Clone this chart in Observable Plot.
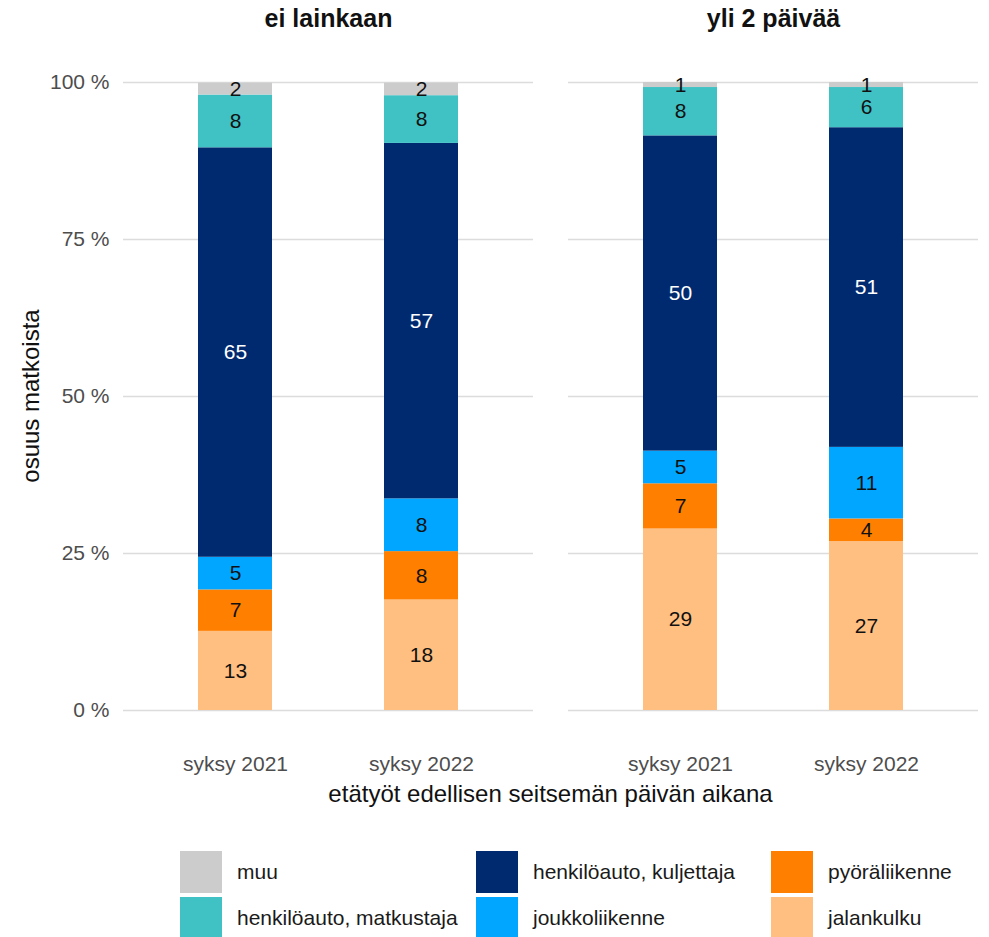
<!DOCTYPE html>
<html>
<head>
<meta charset="utf-8">
<script src="https://cdn.jsdelivr.net/npm/d3@7"></script>
<script src="https://cdn.jsdelivr.net/npm/@observablehq/plot@0.6"></script>
<style>
  body { margin: 0; background: #fff; font-family: "Liberation Sans", Arial, sans-serif; }
  #legend { display: grid; grid-template-columns: 296px 295px auto; row-gap: 4px; padding-left: 180px; margin-top: 31px; }
  .item { display: flex; align-items: center; height: 42px; font-size: 21px; color: #1a1a1a; white-space: nowrap; }
  .sw { width: 42px; height: 42px; margin-right: 15px; flex: none; }
</style>
</head>
<body>
<div id="chart"></div>
<div id="legend"></div>
<script>
// Categories (stack order bottom -> top)
const categories = ["jalankulku", "pyöräliikenne", "joukkoliikenne", "henkilöauto, kuljettaja", "henkilöauto, matkustaja", "muu"];
const colors = ["#ffbf80", "#ff7f00", "#00a6ff", "#002a70", "#40c2c4", "#cccccc"];
const facets = ["ei lainkaan", "yli 2 päivää"];
const years = ["syksy 2021", "syksy 2022"];
// values per category, in the order of categories
const eiLainkaan2021 = [12.6, 6.6, 5.2, 65.2, 8.4, 1.9];
const eiLainkaan2022 = [17.6, 7.7, 8.4, 56.6, 7.6, 2.0];
const yli2Paivaa2021 = [28.9, 7.2, 5.2, 50.2, 7.7, 0.8];
const yli2Paivaa2022 = [26.9, 3.6, 11.4, 50.9, 6.4, 0.8];
const yTicks = [0, 25, 50, 75, 100];
const legendOrder = ["muu", "henkilöauto, kuljettaja", "pyöräliikenne", "henkilöauto, matkustaja", "joukkoliikenne", "jalankulku"];

const series = [
  [facets[0], years[0], eiLainkaan2021],
  [facets[0], years[1], eiLainkaan2022],
  [facets[1], years[0], yli2Paivaa2021],
  [facets[1], years[1], yli2Paivaa2022]
];
const data = [];
for (const [facet, year, vals] of series) {
  vals.forEach((v, i) => data.push({facet, year, category: categories[i], value: v}));
}

const W = 989, H = 820, ML = 123, MR = 11, MT = 82, MB = 110;
const font = "Liberation Sans, Arial, sans-serif";
const darkCat = "henkilöauto, kuljettaja";

const plot = Plot.plot({
  width: W, height: H,
  marginLeft: ML, marginRight: MR, marginTop: MT, marginBottom: MB,
  style: {fontFamily: font, background: "#fff"},
  fx: {domain: facets, paddingInner: 0.0787, paddingOuter: 0, label: null},
  x: {domain: years, paddingInner: 0.602, paddingOuter: 0.403, label: null},
  y: {domain: [0, 100], label: null},
  color: {domain: categories, range: colors},
  marks: [
    Plot.gridY(yTicks, {stroke: "#dcdcdc", strokeOpacity: 1, strokeWidth: 1.6}),
    Plot.barY(data, {fx: "facet", x: "year", y: "value", fill: "category"}),
    Plot.text(data, Plot.stackY({
      fx: "facet", x: "year", y: "value", z: "category",
      text: d => d.category !== darkCat ? String(Math.round(d.value)) : "",
      fill: "#111", fontSize: 21
    })),
    Plot.text(data, Plot.stackY({
      fx: "facet", x: "year", y: "value", z: "category",
      text: d => d.category === darkCat ? String(Math.round(d.value)) : "",
      fill: "#fff", fontSize: 21
    })),
    Plot.axisY(yTicks, {tickSize: 0, tickPadding: 14, tickFormat: d => d + " %", fontSize: 21, color: "#4d4d4d", label: null}),
    Plot.axisX({tickSize: 0, tickPadding: 46, fontSize: 21, color: "#4d4d4d", label: null}),
    Plot.axisFx({anchor: "top", tickSize: 0, tickPadding: 56, fontSize: 25, fontWeight: "bold", color: "#111", label: null})
  ]
});

const svg = d3.select(plot);
svg.append("text")
  .attr("x", (ML + W - MR) / 2).attr("y", 802)
  .attr("text-anchor", "middle")
  .attr("font-size", 24).attr("fill", "#111").attr("font-family", font)
  .text("etätyöt edellisen seitsemän päivän aikana");
svg.append("text")
  .attr("transform", `translate(39,${(MT + H - MB) / 2}) rotate(-90)`)
  .attr("text-anchor", "middle")
  .attr("font-size", 24).attr("fill", "#111").attr("font-family", font)
  .text("osuus matkoista");

document.getElementById("chart").appendChild(plot);

const legend = d3.select("#legend");
for (const c of legendOrder) {
  const it = legend.append("div").attr("class", "item");
  it.append("div").attr("class", "sw").style("background", colors[categories.indexOf(c)]);
  it.append("span").text(c);
}
</script>
</body>
</html>
